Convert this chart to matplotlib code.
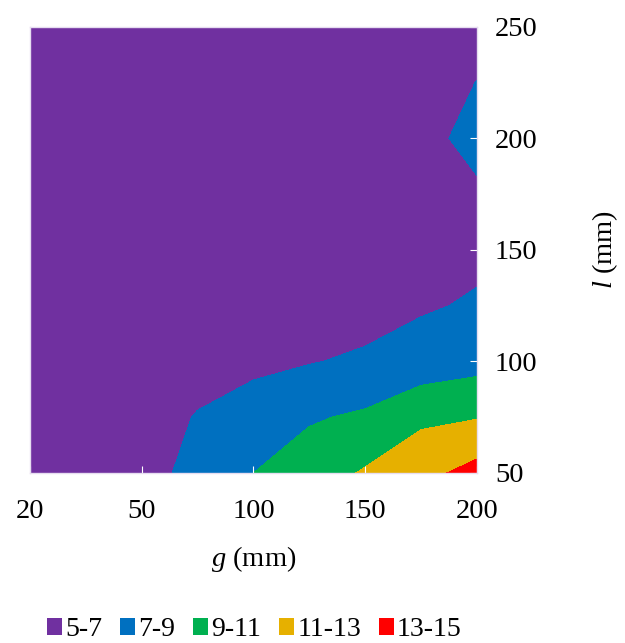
import numpy as np
import matplotlib
matplotlib.use("Agg")
import matplotlib.pyplot as plt
from matplotlib.patches import Patch

plt.rcParams['font.family'] = ['Liberation Serif', 'DejaVu Serif']
plt.rcParams['mathtext.fontset'] = 'custom'
plt.rcParams['mathtext.rm'] = 'Liberation Serif'
plt.rcParams['mathtext.it'] = 'Liberation Serif:italic'

# ── data ────────────────────────────────────────────────────────────────────
g_labels = ["20", "50", "100", "150", "200"]          # category axis labels
g_cols = [0, 0.5, 1, 1.5, 2, 2.5, 3, 3.5, 4]           # category positions of grid columns
l_rows = [50, 75, 100, 125, 150, 175, 200, 225, 250]  # l (mm)

z = [
    [5.5, 5.8, 6.4, 7.5, 9.0, 10.0, 11.2, 12.4, 13.7],  # l=50
    [5.4, 5.7, 6.2, 7.1, 7.8, 8.8, 9.3, 10.6, 10.9],    # l=75
    [5.3, 5.5, 5.9, 6.3, 6.6, 6.9, 7.3, 7.8, 8.3],      # l=100
    [5.2, 5.4, 5.6, 5.7, 5.8, 6.0, 6.2, 6.8, 7.2],      # l=125
    [5.2, 5.3, 5.4, 5.5, 5.6, 5.7, 5.9, 6.3, 6.6],      # l=150
    [5.1, 5.2, 5.3, 5.4, 5.5, 5.6, 5.8, 6.2, 6.8],      # l=175
    [5.1, 5.2, 5.3, 5.4, 5.5, 5.6, 5.8, 6.6, 7.4],      # l=200
    [5.1, 5.1, 5.2, 5.3, 5.4, 5.5, 5.7, 6.4, 7.02],     # l=225
    [5.1, 5.1, 5.2, 5.3, 5.4, 5.4, 5.6, 6.0, 6.5],      # l=250
]

levels = [5, 7, 9, 11, 13, 15]
band_labels = ["5-7", "7-9", "9-11", "11-13", "13-15"]
colors = ["#7030A0", "#0070C0", "#00B050", "#E6B000", "#FF0000"]

# ── plot ────────────────────────────────────────────────────────────────────
fig = plt.figure(figsize=(6.25, 6.43), dpi=100)
ax = fig.add_axes([0.048, 0.2644, 0.715, 0.694])

X, Y = np.meshgrid(g_cols, l_rows)
ax.contourf(X, Y, np.array(z), levels=levels, colors=colors)

ax.set_xlim(0, 4)
ax.set_ylim(50, 250)
ax.set_xticks(range(len(g_labels)))
ax.set_xticklabels(g_labels)
ax.set_yticks([50, 100, 150, 200, 250])

ax.yaxis.tick_right()
ax.yaxis.set_label_position("right")
ax.tick_params(axis="both", direction="in", colors="white", length=5,
               labelsize=20.5, labelcolor="black")
ax.tick_params(axis="x", pad=19)
ax.tick_params(axis="y", pad=13)
for s in ax.spines.values():
    s.set_color("#E6DDF0")
    s.set_linewidth(1)

ax.set_xlabel("$g$ (mm)", fontsize=20.5, labelpad=14)
ax.set_ylabel("$l$ (mm)", fontsize=20.5, labelpad=38)

handles = [Patch(facecolor=c, edgecolor="none") for c in colors]
fig.legend(handles, band_labels, loc="center", bbox_to_anchor=(0.407, 0.021),
           ncol=5, frameon=False, fontsize=20, handlelength=0.55, handleheight=0.55,
           handletextpad=0.1, columnspacing=0.65)

fig.savefig("out.png", dpi=100)
